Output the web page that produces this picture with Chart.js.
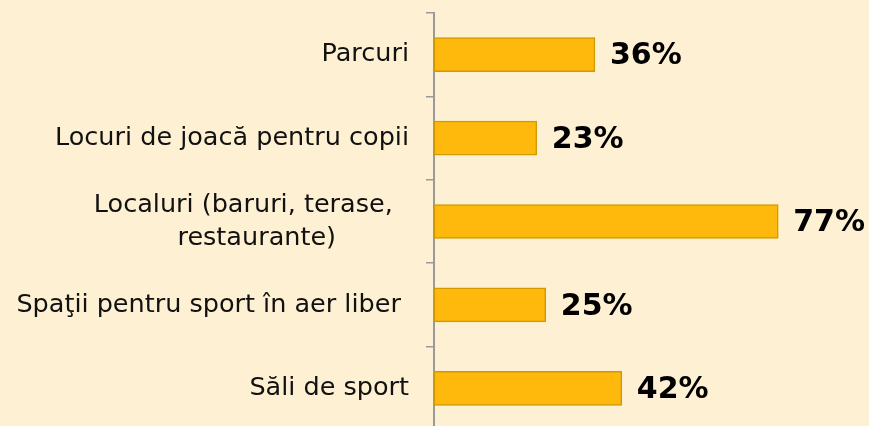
<!DOCTYPE html>
<html>
<head>
<meta charset="utf-8">
<script src="https://cdn.jsdelivr.net/npm/chart.js@4/dist/chart.umd.min.js"></script>
<style>
  html, body { margin: 0; padding: 0; background: #FEF0D2; overflow: hidden; }
  #wrap { width: 869px; height: 430px; }
</style>
</head>
<body>
<div id="wrap"><canvas id="myChart"></canvas></div>
<script>
// labels carry trailing spaces so the wrapped one looks centred like the original
const categories = [
    'Parcuri',
    'Locuri de joacă pentru copii',
    ['Localuri (baruri, terase,  ', 'restaurante)         '],
    'Spaţii pentru sport în aer liber ',
    'Săli de sport'
];
const values = [36, 23, 77, 25, 42];
const valueLabels = ['36%', '23%', '77%', '25%', '42%'];

const valueText = {
    id: 'valueText',
    afterDatasetsDraw(chart) {
        const ctx = chart.ctx;
        const meta = chart.getDatasetMeta(0);
        ctx.save();
        ctx.font = 'bold 30px "DejaVu Sans"';
        ctx.fillStyle = '#000';
        ctx.textAlign = 'left';
        ctx.textBaseline = 'middle';
        meta.data.forEach((bar, i) => {
            ctx.fillText(valueLabels[i], bar.x + 15, bar.y + 2);
        });
        ctx.restore();
    }
};

const ctx = document.getElementById('myChart').getContext('2d');
const myChart = new Chart(ctx, {
    type: 'bar',
    data: {
        labels: categories,
        datasets: [{
            data: values,
            backgroundColor: '#FFB80C',
            borderColor: '#D09A00',
            borderWidth: 1.5,
            borderSkipped: false,
            barThickness: 34
        }]
    },
    options: {
        indexAxis: 'y',
        responsive: true,
        maintainAspectRatio: false,
        animation: false,
        layout: { padding: { top: 13, right: 0, bottom: 0, left: 0 } },
        plugins: {
            legend: { display: false },
            tooltip: { enabled: false }
        },
        scales: {
            x: {
                display: false,
                min: 0,
                max: 97.3
            },
            y: {
                afterFit(scale) {
                    scale.width = 434;
                    scale.paddingTop = 0;
                    scale.paddingBottom = 0;
                },
                grid: {
                    offset: true,
                    drawOnChartArea: false,
                    tickLength: 8,
                    color: '#9a9a9a',
                    lineWidth: 1.5
                },
                border: { color: '#9a9a9a', width: 2 },
                ticks: {
                    padding: 17,
                    color: '#111',
                    font: { family: 'DejaVu Sans', size: 25.5, lineHeight: 1.3 }
                }
            }
        }
    },
    plugins: [valueText]
});
</script>
</body>
</html>
